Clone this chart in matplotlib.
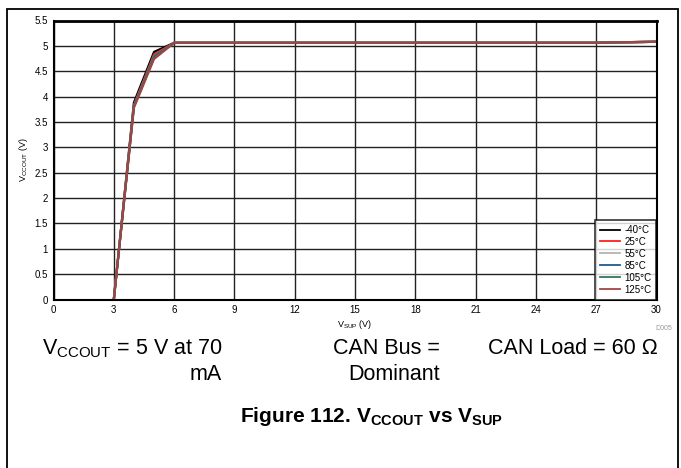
import matplotlib
matplotlib.use('Agg')
import matplotlib.pyplot as plt
from matplotlib.patches import Rectangle

plt.rcParams['font.family'] = ['Liberation Sans', 'DejaVu Sans']
plt.rcParams['mathtext.fontset'] = 'custom'
plt.rcParams['mathtext.rm'] = 'Liberation Sans'
plt.rcParams['mathtext.bf'] = 'Liberation Sans:bold'

# supply voltage points (V)
vsup = [3, 4, 5, 6, 9, 12, 15, 18, 21, 24, 27, 28, 30]

# output voltage per temperature (V)
v_m40 = [0, 3.88, 4.88, 5.06, 5.06, 5.06, 5.06, 5.06, 5.06, 5.06, 5.06, 5.07, 5.08]
v_25 = [0, 3.83, 4.83, 5.06, 5.06, 5.06, 5.06, 5.06, 5.06, 5.06, 5.06, 5.07, 5.08]
v_55 = [0, 3.81, 4.79, 5.06, 5.06, 5.06, 5.06, 5.06, 5.06, 5.06, 5.06, 5.07, 5.08]
v_85 = [0, 3.81, 4.79, 5.06, 5.06, 5.06, 5.06, 5.06, 5.06, 5.06, 5.06, 5.07, 5.08]
v_105 = [0, 3.80, 4.77, 5.06, 5.06, 5.06, 5.06, 5.06, 5.06, 5.06, 5.06, 5.07, 5.08]
v_125 = [0, 3.78, 4.74, 5.06, 5.06, 5.06, 5.06, 5.06, 5.06, 5.06, 5.06, 5.07, 5.08]

labels = ['-40°C', '25°C', '55°C', '85°C', '105°C', '125°C']
colors = ['#000000', '#ff2020', '#b4b4b4', '#1f5a8a', '#2e7a55', '#a04545']
series = [v_m40, v_25, v_55, v_85, v_105, v_125]

xticks = [0, 3, 6, 9, 12, 15, 18, 21, 24, 27, 30]
yticks = [0, 0.5, 1, 1.5, 2, 2.5, 3, 3.5, 4, 4.5, 5, 5.5]

fig = plt.figure(figsize=(6.81, 4.68), dpi=100)

# page frame
fig.patches.append(Rectangle((7 / 681, -0.01), (678 - 7) / 681, 1 - 9 / 468 + 0.01,
                             transform=fig.transFigure, fill=False, lw=1.3, ec='black'))

ax = fig.add_axes([53.5 / 681, 1 - 299.5 / 468, (656.5 - 53.5) / 681, (299.5 - 20.5) / 468])

for ys, c, lab in zip(series, colors, labels):
    ax.plot(vsup, ys, color=c, lw=1.6, label=lab)

ax.set_xlim(0, 30)
ax.set_ylim(0, 5.5)
ax.set_xticks(xticks)
ax.set_yticks(yticks)
ax.set_yticklabels(['0', '0.5', '1', '1.5', '2', '2.5', '3', '3.5', '4', '4.5', '5', '5.5'])
ax.grid(True, color='#222222', lw=1.0)
ax.set_axisbelow(True)
ax.tick_params(length=0, labelsize=7, pad=4)
for sp in ax.spines.values():
    sp.set_linewidth(1.5)
ax.spines['top'].set_linewidth(2)

ax.set_xlabel(r'V$_{\mathregular{SUP}}$ (V)', fontsize=6.5, labelpad=2)
ax.set_ylabel(r'V$_{\mathregular{CCOUT}}$ (V)', fontsize=6.5, labelpad=3)

leg = ax.legend(loc='lower right', fontsize=7, frameon=True, fancybox=False,
                borderaxespad=0, handlelength=2.0, labelspacing=0.2,
                borderpad=0.5, handletextpad=0.5)
leg.get_frame().set_edgecolor('black')
leg.get_frame().set_linewidth(1.2)
for h in leg.get_lines():
    h.set_linewidth(1.3)

fig.text(672 / 681, 1 - 328 / 468, 'D005', fontsize=5, color='#999999', ha='right', va='center')

# test conditions under the plot
fs = 15.5
fig.text(222 / 681, 1 - 349 / 468, r'V$_{\mathregular{CCOUT}}$ = 5 V at 70', fontsize=fs, ha='right', va='center')
fig.text(222 / 681, 1 - 374 / 468, 'mA', fontsize=fs, ha='right', va='center')
fig.text(440 / 681, 1 - 349 / 468, 'CAN Bus =', fontsize=fs, ha='right', va='center')
fig.text(440 / 681, 1 - 374 / 468, 'Dominant', fontsize=fs, ha='right', va='center')
fig.text(658 / 681, 1 - 349 / 468, 'CAN Load = 60 Ω', fontsize=fs, ha='right', va='center')

fig.text(372 / 681, 1 - 417 / 468,
         r'Figure 112. V$_{\mathbf{CCOUT}}$ vs V$_{\mathbf{SUP}}$',
         fontsize=15, fontweight='bold', ha='center', va='center')

fig.savefig('out.png', dpi=100)
